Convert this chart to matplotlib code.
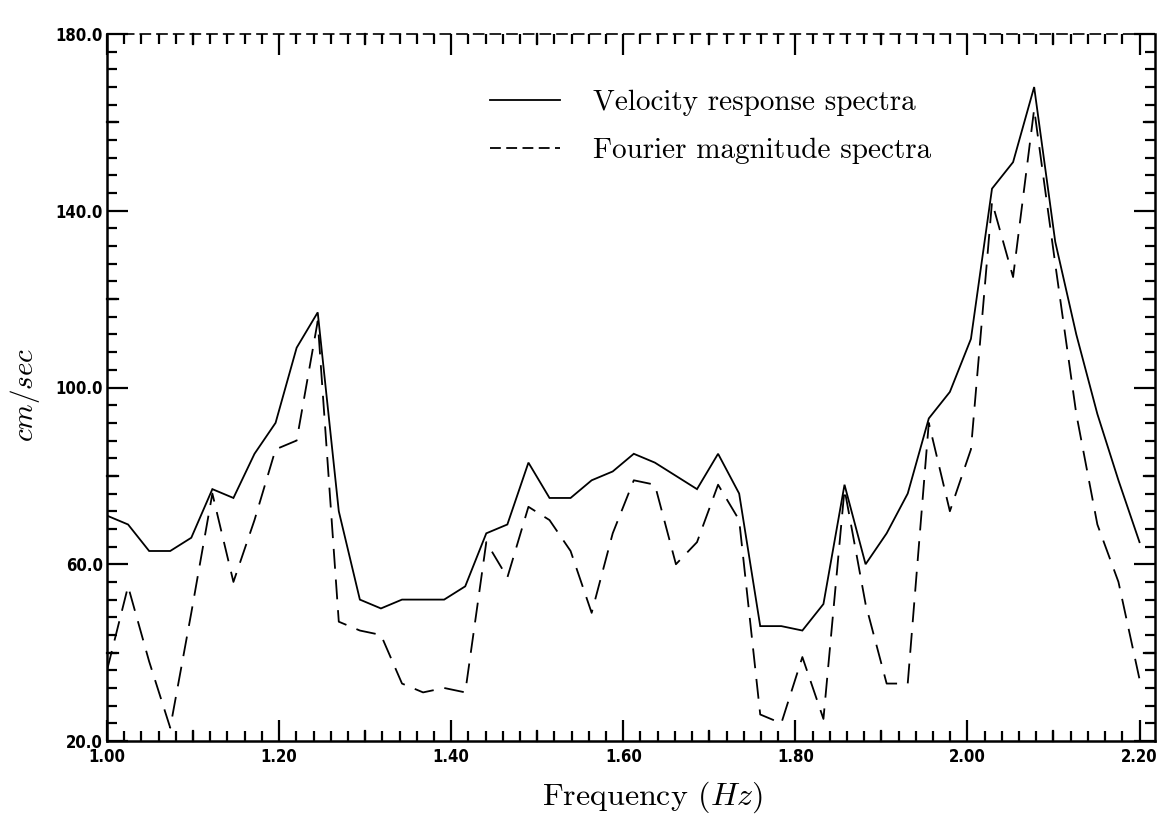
import numpy as np
import matplotlib
matplotlib.use("Agg")
import matplotlib.pyplot as plt
from matplotlib.lines import Line2D
from matplotlib.ticker import MultipleLocator, FixedLocator, FixedFormatter

plt.rcParams["mathtext.fontset"] = "cm"

# Frequency grid (Hz) shared by both spectra
freq = np.linspace(1.0, 2.2, 50)

# Velocity response spectra (cm/sec)
velocity = [71, 69, 63, 63, 66, 77, 75, 85, 92, 109,
            117, 72, 52, 50, 52, 52, 52, 55, 67, 69,
            83, 75, 75, 79, 81, 85, 83, 80, 77, 85,
            76, 46, 46, 45, 51, 78, 60, 67, 76, 93,
            99, 111, 145, 151, 168, 133, 112, 94, 79, 65]

# Fourier magnitude spectra (cm/sec)
fourier = [36, 55, 38, 23, 49, 76, 56, 70, 86, 88,
           115, 47, 45, 44, 33, 31, 32, 31, 65, 57,
           73, 70, 63, 49, 67, 79, 78, 60, 65, 78,
           70, 26, 24, 39, 25, 77, 51, 33, 33, 92,
           72, 86, 142, 125, 163, 128, 94, 69, 56, 34]

x_ticks = [1.0, 1.2, 1.4, 1.6, 1.8, 2.0, 2.2]
x_tick_labels = ["1.00", "1.20", "1.40", "1.60", "1.80", "2.00", "2.20"]
y_ticks = [20, 60, 100, 140, 180]
y_tick_labels = ["20.0", "60.0", "100.0", "140.0", "180.0"]

W, H = 1168, 818
fig = plt.figure(figsize=(W / 100, H / 100), dpi=100)
left, right, top, bottom = 107, 1155, 34, 741
ax = fig.add_axes([left / W, 1 - bottom / H, (right - left) / W, (bottom - top) / H])

SOLID_LW = 1.3
DASHES = (11, 6)
ax.plot(freq, velocity, color="black", lw=SOLID_LW, solid_joinstyle="miter")
ax.plot(freq, fourier, color="black", lw=SOLID_LW, dashes=DASHES)

XMAX = 2.218
ax.set_xlim(1.0, XMAX)
ax.set_ylim(20, 180)

# Tick layout: labelled majors, fine minors
ax.xaxis.set_major_locator(FixedLocator(x_ticks))
ax.xaxis.set_major_formatter(FixedFormatter(x_tick_labels))
ax.xaxis.set_minor_locator(MultipleLocator(0.02))
ax.yaxis.set_major_locator(FixedLocator(y_ticks))
ax.yaxis.set_major_formatter(FixedFormatter(y_tick_labels))
ax.yaxis.set_minor_locator(MultipleLocator(4))

ax.tick_params(which="both", direction="in", top=True, right=True,
               color="black", width=1.6)
ax.tick_params(which="major", length=15)
ax.tick_params(which="minor", length=7)
ax.tick_params(axis="y", pad=3)
ax.tick_params(axis="x", pad=5)
for lab in ax.get_xticklabels() + ax.get_yticklabels():
    lab.set_fontfamily("DejaVu Sans")
    lab.set_fontweight("bold")
    lab.set_fontstretch("condensed")
    lab.set_fontsize(12)

# Medium ticks half way between the labelled ones
mid_len_x = 0.0125
mid_len_y = 2.3
for xm in [1.1, 1.3, 1.5, 1.7, 1.9, 2.1]:
    ax.plot([xm, xm], [20, 20 + mid_len_y], color="black", lw=1.6, clip_on=False)
    ax.plot([xm, xm], [180, 180 - mid_len_y], color="black", lw=1.6, clip_on=False)
for ym in [40, 80, 120, 160]:
    ax.plot([1.0, 1.0 + mid_len_x], [ym, ym], color="black", lw=1.6, clip_on=False)
    ax.plot([XMAX, XMAX - mid_len_x], [ym, ym], color="black", lw=1.6, clip_on=False)

for side in ["left", "right", "bottom"]:
    ax.spines[side].set_linewidth(1.8)
ax.spines["top"].set_linewidth(1.2)
ax.spines["top"].set_linestyle((0, (6, 4)))

ax.set_xlabel(r"Frequency $(Hz)$", family="cmr10", fontsize=23)
ax.xaxis.set_label_coords(0.52, -0.055)
ax.set_ylabel(r"$cm/sec$", fontsize=21)
ax.yaxis.set_label_coords(-0.062, 0.49)

# Key, placed in figure pixels
def fx(px):
    return px / W

def fy(py):
    return 1 - py / H

key_rows = [("Velocity response spectra", 100, None),
            ("Fourier magnitude spectra", 148, (6, 3))]
for text, py, dash in key_rows:
    line = Line2D([fx(490), fx(560)], [fy(py), fy(py)], transform=fig.transFigure,
                  color="black", lw=SOLID_LW)
    if dash is not None:
        line.set_dashes(dash)
    fig.add_artist(line)
    fig.text(fx(593), fy(py + 3), text, family="cmr10", fontsize=21,
             ha="left", va="center")

fig.savefig("out.png", dpi=100)
